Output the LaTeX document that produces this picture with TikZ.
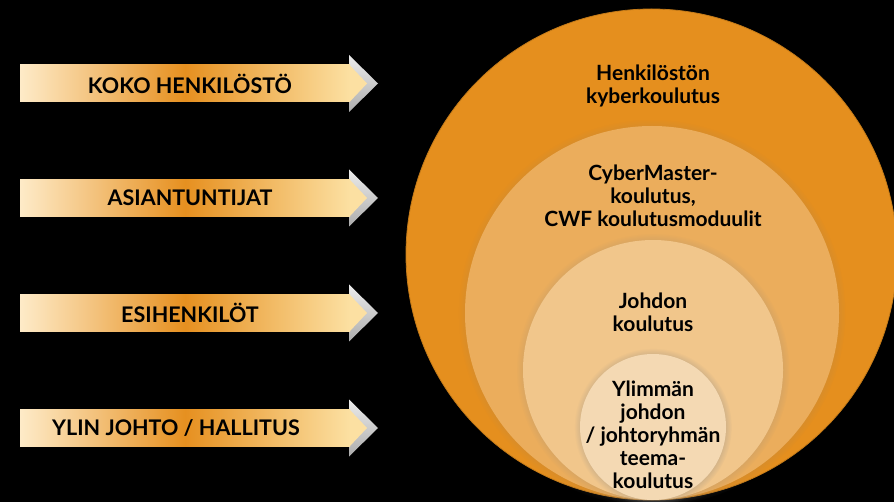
\documentclass[tikz,border=0pt]{standalone}
\usepackage{fontspec}
\setmainfont{Lato}
\usetikzlibrary{shadows}

\definecolor{ringA}{HTML}{E58F1E}
\definecolor{ringB}{HTML}{EBAD5C}
\definecolor{ringC}{HTML}{F1C68B}
\definecolor{ringD}{HTML}{F4D9B3}
\definecolor{bannerL}{HTML}{FEEBC8}
\definecolor{bannerM}{HTML}{E69020}
\definecolor{bannerR}{HTML}{FCE0A2}

\tikzset{
  bannertext/.style={font=\bfseries\fontsize{21.5}{24}\selectfont, text=black, inner sep=0pt},
  ringtext/.style={font=\bfseries\fontsize{21}{23}\selectfont, text=black, align=center, inner sep=0pt},
  ringshadow/.style={circular drop shadow={shadow xshift=0pt, shadow yshift=0pt, shadow scale=#1, opacity=0.45}}
}

\begin{document}
\begin{tikzpicture}[x=1pt,y=-1pt]
            \fill[black] (0,0) rectangle (894,502);
            \useasboundingbox (0,0) rectangle (894,502);
            % nested rings, all touching at the bottom
            \fill[ringA, draw=ringA!85!black, line width=0.8pt] (651.5,254.5) circle[radius=245.5pt];
            \fill[ringB, ringshadow=1.035] (652,313) circle[radius=187pt];
            \fill[ringC, ringshadow=1.05] (653,370) circle[radius=130pt];
            \fill[ringD, ringshadow=1.08] (653,427) circle[radius=73pt];
            \node[ringtext] (staff) at (653,86) {Henkilöstön\\kyberkoulutus};
            \node[ringtext] (experts) at (653,196) {CyberMaster-\\koulutus,\\CWF koulutusmoduulit};
            \node[ringtext] (managers) at (653,312) {Johdon\\koulutus};
            \node[ringtext] (board) at (653,435) {Ylimmän\\johdon\\/ johtoryhmän\\teema-\\koulutus};
            % banners on the left
            \foreach \y/\tx/\name/\lbl in {83.5/190/koko/{KOKO HENKILÖSTÖ}, 198/190/asiant/{ASIANTUNTIJAT}, 313/190/esih/{ESIHENKILÖT}, 428/176/ylin/{YLIN JOHTO / HALLITUS}} {
              \shade[top color=gray!15, bottom color=gray!65] (349,\y-28.5) -- (378,\y) -- (349,\y+28.5) -- cycle;
              \shade[left color=bannerL, right color=bannerR, middle color=bannerM] (20,\y-18.5) rectangle (350,\y+18.5);
              \fill[bannerR] (349.5,\y-18.5) -- (367,\y) -- (349.5,\y+18.5) -- cycle;
              \node[bannertext] (\name) at (\tx,\y) {\lbl};
            }
        \end{tikzpicture}
\end{document}
